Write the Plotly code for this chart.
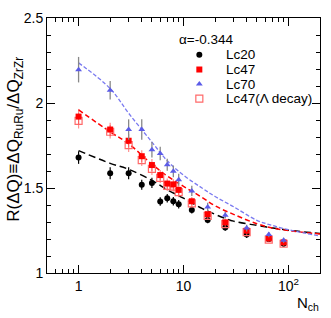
import plotly.graph_objects as go
import math

# ---- data ----
x_pts = [1, 2, 3, 4, 5, 6, 7, 8, 9, 12, 17, 25, 40, 65, 90]

lc20 = [1.679, 1.587, 1.587, 1.519, 1.530, 1.420, 1.439, 1.422, 1.405, 1.370, 1.312, 1.268, 1.226, 1.200, 1.172]
lc20_err = [0.037, 0.035, 0.035, 0.03, 0.03, 0.025, 0.025, 0.025, 0.025, 0.02, 0.02, 0.02, 0.02, 0.015, 0.015]

lc47 = [1.920, 1.844, 1.778, 1.687, 1.635, 1.576, 1.526, 1.521, 1.489, 1.422, 1.346, 1.298, 1.249, 1.203, 1.180]
lc47_err = [0.045, 0.04, 0.04, 0.035, 0.035, 0.03, 0.03, 0.03, 0.03, 0.025, 0.02, 0.02, 0.02, 0.015, 0.015]

lc47_lam = [1.895, 1.831, 1.752, 1.664, 1.612, 1.560, 1.512, 1.508, 1.476, 1.410, 1.336, 1.288, 1.240, 1.196, 1.172]
lc47_lam_err = [0.045, 0.04, 0.04, 0.035, 0.035, 0.03, 0.03, 0.03, 0.03, 0.025, 0.02, 0.02, 0.02, 0.015, 0.015]

lc70 = [2.196, 2.075, 1.844, 1.844, 1.725, 1.703, 1.637, 1.598, 1.549, 1.483, 1.388, 1.340, 1.264, 1.226, 1.192]
lc70_err = [0.075, 0.055, 0.06, 0.06, 0.045, 0.04, 0.035, 0.035, 0.035, 0.03, 0.025, 0.02, 0.02, 0.015, 0.015]

x_curve = [1, 2, 3, 5, 7, 10, 15, 20, 30, 50, 70, 100, 150, 200]
lc20_curve = [1.720, 1.645, 1.610, 1.545, 1.49, 1.44, 1.38, 1.345, 1.305, 1.28, 1.265, 1.252, 1.24, 1.232]
lc47_curve = [1.960, 1.83, 1.76, 1.64, 1.57, 1.51, 1.445, 1.395, 1.345, 1.29, 1.265, 1.25, 1.237, 1.23]
lc70_curve = [2.236, 2.085, 1.94, 1.77, 1.66, 1.575, 1.50, 1.45, 1.39, 1.31, 1.28, 1.255, 1.232, 1.218]

x_tickvals = [1, 10, 100]
x_ticktext = ["1", "10", "10<sup>2</sup>"]
y_tickvals = [1, 1.5, 2, 2.5]
y_ticktext = ["1", "1.5", "2", "2.5"]

legend_names = ["Lc20", "Lc47", "Lc70", "Lc47(\u039b decay)"]
alpha_label = "\u03b1=-0.344"

# ---- styles ----
BLUE = "#5b5be8"
BLUE_LINE = "#7a7af0"
RED = "#ff0000"
PINK = "#ff6a6a"
FONT = "Liberation Sans, Arial, sans-serif"

fig = go.Figure()

# curves
fig.add_trace(go.Scatter(x=x_curve, y=lc20_curve, mode="lines", line=dict(color="black", width=1.5, dash="7px,4px", shape="spline"), showlegend=False))
fig.add_trace(go.Scatter(x=x_curve, y=lc47_curve, mode="lines", line=dict(color=RED, width=1.5, dash="5px,3px", shape="spline"), showlegend=False))
fig.add_trace(go.Scatter(x=x_curve, y=lc70_curve, mode="lines", line=dict(color=BLUE_LINE, width=1.3, dash="4px,2px", shape="spline"), showlegend=False))

# points
fig.add_trace(go.Scatter(x=x_pts, y=lc20, mode="markers",
                         marker=dict(symbol="circle", size=6, color="black"),
                         error_y=dict(type="data", array=lc20_err, color="black", thickness=1.2, width=0),
                         showlegend=False))
fig.add_trace(go.Scatter(x=x_pts, y=lc47_lam, mode="markers",
                         marker=dict(symbol="square-open", size=7, color=PINK, line=dict(width=1.2)),
                         error_y=dict(type="data", array=lc47_lam_err, color="rgba(255,100,100,0.7)", thickness=1.2, width=0),
                         showlegend=False))
fig.add_trace(go.Scatter(x=x_pts, y=lc47, mode="markers",
                         marker=dict(symbol="square", size=6, color=RED),
                         error_y=dict(type="data", array=lc47_err, color="rgba(255,60,60,0.6)", thickness=1.2, width=0),
                         showlegend=False))
fig.add_trace(go.Scatter(x=x_pts, y=lc70, mode="markers",
                         marker=dict(symbol="triangle-up", size=6, color=BLUE),
                         error_y=dict(type="data", array=lc70_err, color="#888888", thickness=1.3, width=0),
                         showlegend=False))

# manual legend (keys on an overlay axis in legend space)
leg_marker_x = 0.558
leg_text_x = 0.647
leg_rows = [0.856, 0.798, 0.741, 0.684]
leg_styles = [
    dict(symbol="circle", size=6, color="black"),
    dict(symbol="square", size=6, color=RED),
    dict(symbol="triangle-up", size=6, color=BLUE),
    dict(symbol="square-open", size=7, color=PINK, line=dict(width=1.2)),
]
for name, yy, st in zip(legend_names, leg_rows, leg_styles):
    fig.add_trace(go.Scatter(x=[leg_marker_x], y=[yy], mode="markers", marker=st,
                             xaxis="x2", yaxis="y2", showlegend=False, hoverinfo="skip"))
    fig.add_annotation(x=leg_text_x, y=yy, xref="paper", yref="paper", text=name,
                       showarrow=False, xanchor="left", yanchor="middle",
                       font=dict(size=13.5, color="black", family=FONT))

fig.add_annotation(x=0.475, y=0.914, xref="paper", yref="paper", text=alpha_label,
                   showarrow=False, xanchor="left", yanchor="middle",
                   font=dict(size=13.5, color="black", family=FONT))

fig.add_annotation(x=1.005, y=-0.075, xref="paper", yref="paper", text="N<sub>ch</sub>",
                   showarrow=False, xanchor="right", yanchor="top",
                   font=dict(size=15, color="black", family=FONT))

fig.add_annotation(x=-0.115, y=0.525, xref="paper", yref="paper",
                   text="R(\u0394Q)\u2261\u0394Q<sub>RuRu</sub>/\u0394Q<sub>ZrZr</sub>",
                   textangle=-90, showarrow=False, xanchor="center", yanchor="middle",
                   font=dict(size=17, color="black", family=FONT))

minor_x = [m * d for d in (0.1, 1, 10, 100) for m in range(2, 10) if 0.5 <= m * d <= 200]

fig.update_layout(
    width=331, height=318,
    margin=dict(l=47, r=11, t=10, b=45),
    paper_bgcolor="white", plot_bgcolor="white",
    font=dict(family=FONT, size=14, color="black"),
    xaxis=dict(type="log", range=[math.log10(0.5), math.log10(200)],
               tickmode="array", tickvals=x_tickvals, ticktext=x_ticktext,
               ticks="inside", ticklen=8, tickcolor="black", tickwidth=1,
               minor=dict(tickmode="array", tickvals=minor_x, ticks="inside", ticklen=4, tickcolor="black", showgrid=False),
               showline=True, linecolor="black", linewidth=1, mirror="ticks",
               showgrid=False, zeroline=False, tickfont=dict(size=14)),
    yaxis=dict(range=[1, 2.5], tickmode="array", tickvals=y_tickvals, ticktext=y_ticktext,
               ticks="inside", ticklen=8, tickcolor="black", tickwidth=1,
               minor=dict(dtick=0.1, tick0=1, ticks="inside", ticklen=4, tickcolor="black", showgrid=False),
               showline=True, linecolor="black", linewidth=1, mirror="ticks",
               showgrid=False, zeroline=False, tickfont=dict(size=14)),
    xaxis2=dict(range=[0, 1], overlaying="x", visible=False, fixedrange=True),
    yaxis2=dict(range=[0, 1], overlaying="y", visible=False, fixedrange=True),
)

fig.write_html("out.html", config={"displayModeBar": False},
               post_script="document.body.style.margin='0';document.body.style.padding='0';")
